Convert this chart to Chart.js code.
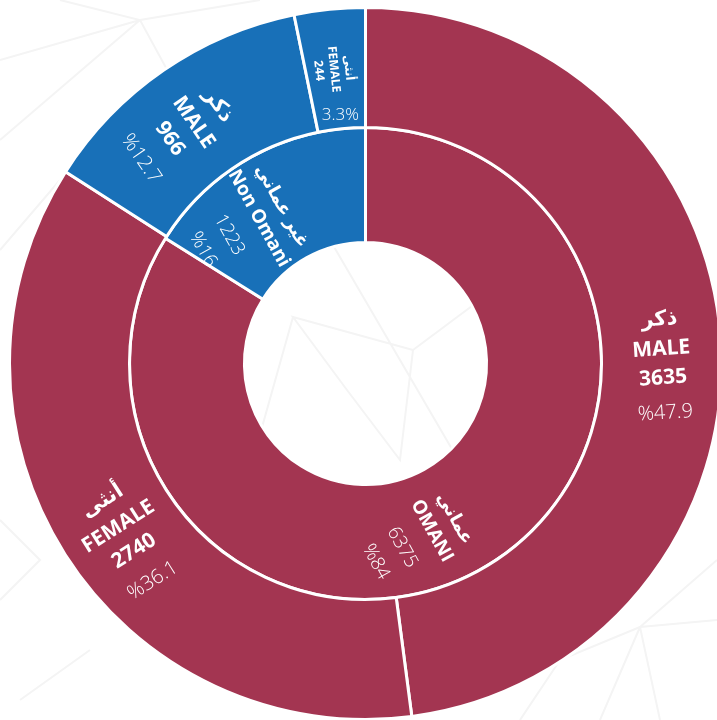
<!DOCTYPE html>
<html>
<head>
<meta charset="utf-8">
<script src="https://cdn.jsdelivr.net/npm/chart.js@4.4.1/dist/chart.umd.min.js"></script>
<style>
    html, body { margin: 0; padding: 0; overflow: hidden; }
    body {
        width: 717px; height: 720px; position: relative;
        background: #fff url("data:image/svg+xml,%3Csvg xmlns='http://www.w3.org/2000/svg' width='717' height='720'%3E%3Cg stroke='%23f4f4f4' stroke-width='2' fill='none'%3E%3Cpath d='M0 60 L140 20 L260 0 M0 140 L140 20 M60 0 L140 20 L200 130 M0 250 L60 180 M293 317 L413 350 L400 460 L347 390 Z M293 317 L250 470 M413 350 L480 300 M330 240 L470 480 M640 627 L717 620 M640 627 L600 720 M640 627 L660 720 M640 627 L560 660 L520 720 M640 627 L717 560 M0 600 L40 560 L0 520 M20 700 L90 650'/%3E%3C/g%3E%3C/svg%3E") no-repeat;
    }
    #wrap { position: absolute; left: 8px; top: 6px; width: 715px; height: 715px; }
</style>
</head>
<body>
<div id="wrap"><canvas id="sunburst"></canvas></div>
<script>
// inner ring: nationality
const nationalityAr = ['عماني', 'غير عماني'];
const nationalityEn = ['OMANI', 'Non Omani'];
const nationalityValues = [6375, 1223];
const nationalityPct = ['%84', '%16'];

// outer ring: gender within nationality
const genderAr = ['ذكر', 'أنثى', 'ذكر', 'أنثى'];
const genderEn = ['MALE', 'FEMALE', 'MALE', 'FEMALE'];
const genderValues = [3635, 2740, 966, 244];
const genderPct = ['%47.9', '%36.1', '%12.7', '3.3%'];

const RED = '#a33551';
const BLUE = '#1870b8';
const F = '"Open Sans", "DejaVu Sans", sans-serif';

const outerStyle = {
    normal: { fonts: ['bold 21px ' + F, 'bold 21px ' + F, 'bold 21px ' + F, '300 20px ' + F], dy: [-25, 5, 34, 69] },
    small: { fonts: ['bold 12px ' + F, 'bold 12px ' + F, 'bold 12px ' + F], dy: [-13, 2, 17], pctFont: '300 17px ' + F }
};
const innerStyle = {
    normal: { fonts: ['bold 18px ' + F, 'bold 19px ' + F, '300 19px ' + F, '300 19px ' + F], dy: [-3, 23, 57, 87] }
};

const ringLabels = {
    id: 'ringLabels',
    afterDatasetsDraw(chart) {
        const ctx = chart.ctx;
        chart.data.datasets.forEach((ds, di) => {
            chart.getDatasetMeta(di).data.forEach((arc, i) => {
                const a = arc.getProps(['x', 'y', 'startAngle', 'endAngle', 'innerRadius', 'outerRadius']);
                const mid = (a.startAngle + a.endAngle) / 2;
                let rot = mid;
                while (rot > Math.PI / 2) rot -= Math.PI;
                while (rot <= -Math.PI / 2) rot += Math.PI;
                const small = (a.endAngle - a.startAngle) < 0.35;
                const st = small ? ds.labelStyle.small : ds.labelStyle.normal;
                const r = (a.innerRadius + a.outerRadius) / 2;
                const lines = [ds.arLabels[i], ds.enLabels[i], String(ds.data[i])];
                if (!small) lines.push(ds.pctLabels[i]);

                ctx.save();
                ctx.fillStyle = '#fff';
                ctx.textAlign = 'center';
                ctx.textBaseline = 'middle';
                ctx.translate(a.x + r * Math.cos(mid), a.y + r * Math.sin(mid));
                ctx.rotate(rot);
                lines.forEach((t, k) => {
                    ctx.font = st.fonts[k];
                    ctx.fillText(t, 0, st.dy[k]);
                });
                ctx.restore();

                if (small) {
                    // percent of the thin slice sits flat near the inner edge
                    const pr = a.innerRadius + 14;
                    ctx.save();
                    ctx.fillStyle = '#fff';
                    ctx.textAlign = 'center';
                    ctx.textBaseline = 'middle';
                    ctx.font = st.pctFont;
                    ctx.fillText(ds.pctLabels[i], a.x + pr * Math.cos(mid), a.y + pr * Math.sin(mid));
                    ctx.restore();
                }
            });
        });
    }
};

new Chart(document.getElementById('sunburst'), {
    type: 'doughnut',
    data: {
        datasets: [
            {
                data: genderValues,
                arLabels: genderAr,
                enLabels: genderEn,
                pctLabels: genderPct,
                labelStyle: outerStyle,
                backgroundColor: [RED, RED, BLUE, BLUE],
                borderColor: '#fff',
                borderWidth: 3,
                weight: 120
            },
            {
                data: nationalityValues,
                arLabels: nationalityAr,
                enLabels: nationalityEn,
                pctLabels: nationalityPct,
                labelStyle: innerStyle,
                backgroundColor: [RED, BLUE],
                borderColor: '#fff',
                borderWidth: 3,
                weight: 115
            }
        ]
    },
    options: {
        responsive: true,
        maintainAspectRatio: false,
        animation: false,
        events: [],
        cutout: '34%',
        layout: { padding: 0 },
        plugins: {
            legend: { display: false },
            tooltip: { enabled: false }
        }
    },
    plugins: [ringLabels]
});
</script>
</body>
</html>
